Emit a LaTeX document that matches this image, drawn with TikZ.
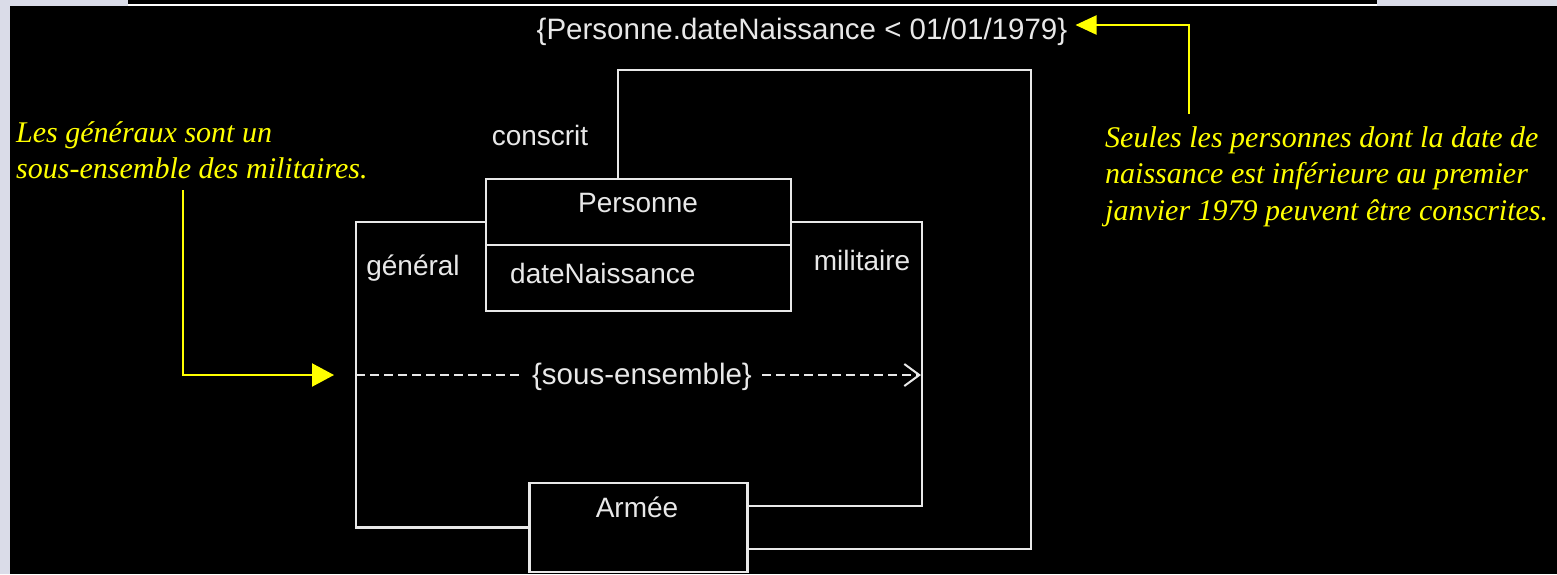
\documentclass[tikz,border=0pt]{standalone}
\usepackage{fontspec}
\setmainfont{Liberation Sans}
\newfontfamily\notefont{Liberation Serif}
\usetikzlibrary{arrows.meta}
\definecolor{bgcol}{RGB}{218,220,232}
\definecolor{linecol}{RGB}{232,232,232}
\definecolor{noteyellow}{RGB}{255,255,0}
\begin{document}
\begin{tikzpicture}[x=1pt,y=-1pt,
  uml/.style={draw=linecol, line width=2.2pt, fill=black, inner sep=0pt},
  lbl/.style={text=linecol, font=\fontsize{28}{34}\selectfont, inner sep=0pt},
  widelbl/.style={text=linecol, font=\fontsize{29.5}{34}\selectfont, inner sep=0pt},
  assoc/.style={draw=linecol, line width=2.2pt},
  subset/.style={draw=linecol, line width=2pt, dash pattern=on 9pt off 5pt, -{Straight Barb[length=15pt,width=22pt,line width=2pt]}},
  note/.style={text=noteyellow, font=\notefont\itshape\fontsize{30}{36.5}\selectfont, align=left, inner sep=0pt},
  notearrow/.style={draw=noteyellow, line width=2.2pt},
]
\useasboundingbox (0,0) rectangle (1557,574);
% background
\fill[bgcol] (0,0) rectangle (1557,574);
\fill[black] (10,6) rectangle (1557,574);
\fill[black] (128,0) rectangle (1377,5);
\draw[white, line width=1.5pt] (128,5) -- (1377,5);

% classes
\node[uml, minimum width=305pt, minimum height=66pt] (pers) at (638.5,212) {};
\node[uml, minimum width=305pt, minimum height=66pt] (attr) at (638.5,278) {};
\node[uml, minimum width=218pt, minimum height=89pt] (armee) at (638.5,527.5) {};
\node[lbl] (persname) at (638,203) {Personne};
\node[lbl, anchor=west] (attrname) at (510,273) {dateNaissance};
\node[lbl] (armeename) at (637,507) {Armée};

% corner coordinates of the associations
\coordinate (gtop) at (356,222);
\coordinate (gbot) at (356,527.5);
\coordinate (mtop) at (922,222);
\coordinate (mbot) at (922,506);
\coordinate (cleft) at (618,70);
\coordinate (cright) at (1031,70);
\coordinate (cbot) at (1031,549);

% général
\draw[assoc] ([yshift=-10pt]pers.west) -- (gtop) -- (gbot) -- (armee.west);
% militaire
\draw[assoc] ([yshift=-10pt]pers.east) -- (mtop) -- (mbot) -- ([yshift=21.5pt]armee.east);
% conscrit
\draw[assoc] ([xshift=-20.5pt]pers.north) -- (cleft) -- (cright) -- (cbot) -- ([yshift=-21.5pt]armee.east);

\node[lbl] (conscritlbl) at (540,135) {conscrit};
\node[lbl] (generallbl) at (413,268) {général};
\node[lbl] (militairelbl) at (862,260) {militaire};

% subset constraint
\coordinate (gsub) at (356,375);
\coordinate (msub) at (921,375);
\draw[subset] (gsub) -- (msub);
\node[widelbl, fill=black, inner xsep=8pt, inner ysep=2pt] (subsetlbl) at (642,377) {\{sous-ensemble\}};

% constraint on conscrit
\node[widelbl] (constraint) at (802,32) {\{Personne.dateNaissance < 01/01/1979\}};

% notes
\node[note, anchor=north west] (lnote) at (16,121) {Les généraux sont un\\sous-ensemble des militaires.};
\node[note, anchor=north west] (rnote) at (1105,126) {Seules les personnes dont la date de\\naissance est inférieure au premier\\janvier 1979 peuvent être conscrites.};

\coordinate (lnotefoot) at (183,190);
\coordinate (rnotehead) at (1189,114);
\draw[notearrow, -{Triangle[length=22pt,width=23pt]}] (lnotefoot) |- ([xshift=-22pt]gsub);
\draw[notearrow, -{Triangle[length=21pt,width=19pt]}] (rnotehead) |- ([xshift=8pt,yshift=7pt]constraint.east);
\end{tikzpicture}
\end{document}
